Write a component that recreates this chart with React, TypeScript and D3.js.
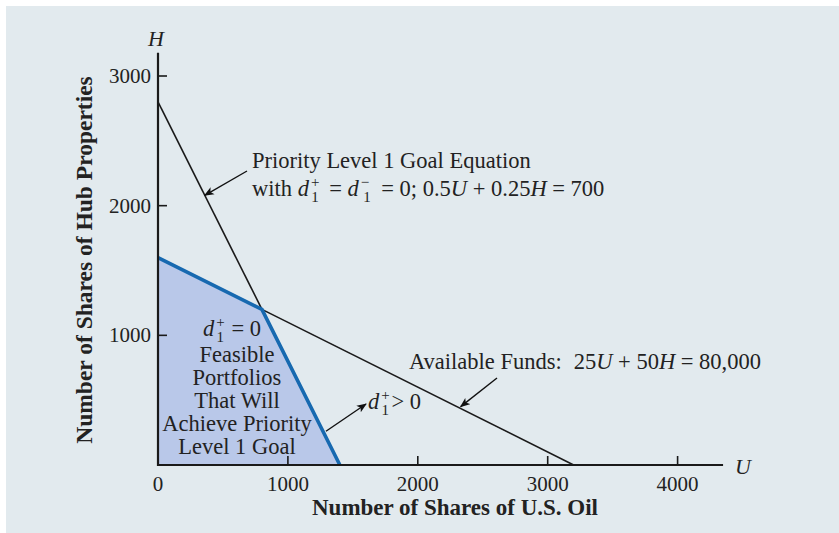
import React from "react";
import * as d3 from "d3";

const xTicks = [0, 1000, 2000, 3000, 4000];
const yTicks = [1000, 2000, 3000];
const goalSegment = [
  { u: 0, h: 2800 },
  { u: 800, h: 1200 },
];
const fundsSegment = [
  { u: 800, h: 1200 },
  { u: 3200, h: 0 },
];
const boundary = [
  { u: 0, h: 1600 },
  { u: 800, h: 1200 },
  { u: 1400, h: 0 },
];
const feasible = [
  { u: 0, h: 0 },
  { u: 0, h: 1600 },
  { u: 800, h: 1200 },
  { u: 1400, h: 0 },
];
const regionLines = ["Feasible", "Portfolios", "That Will", "Achieve Priority", "Level 1 Goal"];

const W = 839;
const H = 533;
const FONT = "'Liberation Serif', 'Times New Roman', serif";

export default function App() {
  const x = d3.scaleLinear().domain([0, 4000]).range([158, 677.6]);
  const y = d3.scaleLinear().domain([0, 3000]).range([465, 76]);
  const line = d3
    .line<{ u: number; h: number }>()
    .x((d) => x(d.u))
    .y((d) => y(d.h));

  const fs = 22.5;
  const small = 15;

  const D = (sup: string, key: string, gap: number) => [
    <tspan key={key + "d"} fontStyle="italic">d</tspan>,
    <tspan key={key + "p"} fontSize={small} dx={2} dy={-9}>{sup}</tspan>,
    <tspan key={key + "s"} fontSize={small} dx={sup === "+" ? -8.2 : -6} dy={15}>1</tspan>,
    <tspan key={key + "r"} dx={gap} dy={-6}>{"\u2009"}</tspan>,
  ];

  return (
    <svg width={W} height={H} style={{ position: "absolute", left: 0, top: 0 }} fontFamily={FONT}>
      <defs>
        <marker id="arr" viewBox="0 0 10 10" refX="9" refY="5" markerWidth="10" markerHeight="10" markerUnits="userSpaceOnUse" orient="auto">
          <path d="M0,1 L10,5 L0,9 L2.5,5 Z" fill="#111" />
        </marker>
      </defs>
      <rect x={0} y={0} width={W} height={H} fill="#ffffff" />
      <rect x={6} y={6} width={W - 6} height={H - 6} fill="#e2eaee" />

      <path d={line(feasible) + "Z"} fill="#b9c8e9" stroke="none" />

      <path d={line(goalSegment) || ""} fill="none" stroke="#1a1a1a" strokeWidth={1.6} />
      <path d={line(fundsSegment) || ""} fill="none" stroke="#1a1a1a" strokeWidth={1.6} />
      <path d={line(boundary) || ""} fill="none" stroke="#1769b0" strokeWidth={3.6} strokeLinejoin="round" />

      <line x1={x(0)} y1={y(0)} x2={x(4350)} y2={y(0)} stroke="#1a1a1a" strokeWidth={2.2} />
      <line x1={x(0)} y1={y(0) + 1} x2={x(0)} y2={y(3180)} stroke="#1a1a1a" strokeWidth={2.2} />
      {xTicks.filter((t) => t > 0).map((t) => (
        <line key={"xt" + t} x1={x(t)} x2={x(t)} y1={y(0)} y2={y(0) - 9} stroke="#1a1a1a" strokeWidth={1.6} />
      ))}
      {yTicks.map((t) => (
        <line key={"yt" + t} x1={x(0)} x2={x(0) + 9} y1={y(t)} y2={y(t)} stroke="#1a1a1a" strokeWidth={1.6} />
      ))}
      {xTicks.map((t) => (
        <text key={"xl" + t} x={x(t)} y={y(0) + 26} textAnchor="middle" fontSize={21} fill="#222">
          {t}
        </text>
      ))}
      {yTicks.map((t) => (
        <text key={"yl" + t} x={x(0) - 7} y={y(t) + 7} textAnchor="end" fontSize={21} fill="#222">
          {t}
        </text>
      ))}
      <text x={x(0) - 2} y={46} textAnchor="middle" fontSize={22} fontStyle="italic" fill="#222">H</text>
      <text x={735} y={474} fontSize={22} fontStyle="italic" fill="#222">U</text>

      <text x={455} y={515} textAnchor="middle" fontSize={23} fontWeight="bold" fill="#222">
        Number of Shares of U.S. Oil
      </text>
      <text transform={`translate(92,260) rotate(-90)`} textAnchor="middle" fontSize={23.5} fontWeight="bold" fill="#222">
        Number of Shares of Hub Properties
      </text>

      <text x={252} y={168} fontSize={fs} fill="#222">Priority Level 1 Goal Equation</text>
      <text x={252} y={196} fontSize={fs} fill="#222">
        with {D("+", "a", 6)}= {D("\u2212", "b", 6)}= 0; 0.5<tspan fontStyle="italic">U</tspan> + 0.25<tspan fontStyle="italic">H</tspan> = 700
      </text>
      <line x1={247} y1={171} x2={x(360)} y2={y(2080)} stroke="#111" strokeWidth={1.4} markerEnd="url(#arr)" />

      <text x={409} y={369} fontSize={fs} fill="#222">
        Available Funds:<tspan dx={12}>25</tspan><tspan fontStyle="italic">U</tspan> + 50<tspan fontStyle="italic">H</tspan> = 80,000
      </text>
      <line x1={497} y1={378} x2={x(2330)} y2={y(435) - 2} stroke="#111" strokeWidth={1.4} markerEnd="url(#arr)" />

      <text x={368} y={409} fontSize={fs} fill="#222">
        {D("+", "c", -2)}&gt; 0
      </text>
      <line x1={x(1270) + 3} y1={y(260)} x2={366} y2={404} stroke="#111" strokeWidth={1.4} markerEnd="url(#arr)" />

      <text x={232} y={336} textAnchor="middle" fontSize={fs} fill="#222">
        {D("+", "e", 3)}= 0
      </text>
      {regionLines.map((s, i) => (
        <text key={s} x={237} y={362 + i * 23} textAnchor="middle" fontSize={fs} fill="#222">
          {s}
        </text>
      ))}
    </svg>
  );
}
